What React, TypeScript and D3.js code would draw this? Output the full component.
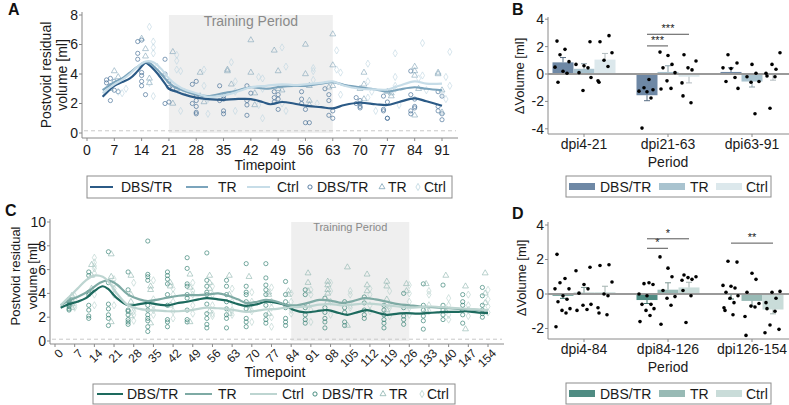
import React from "react";
import * as d3 from "d3";

const FONT = "'Liberation Sans', Arial, Helvetica, sans-serif";
const GROUPS = ["DBS/TR", "TR", "Ctrl"];

// ---------- Panel A (time course, blue) ----------
const ticksA = [0, 7, 14, 21, 28, 35, 42, 49, 56, 63, 70, 77, 84, 91];
const yTicksA = [0, 2, 4, 6, 8];
const trainingA = [21, 63];
const lineA_dbs = [[4,2.45],[7,3.2],[9,3.45],[11,3.7],[13,4.2],[15,4.75],[16,4.6],[18,4.05],[20,3.35],[21,3.0],[23,2.8],[25,2.6],[28,2.4],[31,2.3],[35,2.25],[38,2.3],[42,2.3],[45,2.1],[47,1.95],[50,2.1],[53,2.0],[56,1.85],[60,1.75],[63,1.67],[66,1.9],[70,2.05],[74,1.95],[77,1.9],[80,2.1],[84,2.35],[87,2.15],[91,1.85]];
const lineA_tr = [[4,2.9],[7,3.45],[9,3.7],[11,4.1],[13,4.5],[15,4.8],[16,4.75],[18,4.3],[20,3.7],[22,3.2],[25,2.85],[28,2.6],[31,2.5],[35,2.7],[38,2.85],[42,3.1],[46,3.0],[50,3.15],[53,3.2],[56,3.2],[60,3.35],[63,3.45],[66,3.25],[70,3.1],[74,2.95],[77,2.8],[80,2.95],[84,3.1],[87,3.0],[91,2.9]];
const lineA_ctrl = [[4,2.7],[7,3.3],[9,3.6],[11,4.0],[13,4.5],[15,4.85],[17,4.8],[19,4.35],[21,3.7],[23,3.25],[25,2.95],[28,2.7],[31,2.45],[35,2.55],[38,2.75],[42,3.1],[46,3.2],[50,3.3],[53,3.25],[56,3.3],[60,3.4],[63,3.5],[66,3.2],[70,3.0],[74,2.95],[77,2.95],[80,3.2],[84,3.5],[87,3.35],[91,3.35]];
const ptsA_dbs = [[5,3.6],[5,3.4],[6,3.7],[6,3.2],[6,2.2],[7,3.5],[7,2.9],[8,2.8],[13,6.2],[14,6.3],[13,5.4],[13,5.0],[14,4.1],[14,3.5],[14,3.2],[15,2.6],[14,3.9],[20,5.0],[20,4.0],[21,3.5],[21,3.1],[21,2.1],[20,2.0],[22,3.0],[27,3.3],[28,3.5],[28,2.5],[28,2.2],[28,1.8],[28,1.4],[28,1.3],[27,2.0],[34,3.2],[35,2.5],[35,2.3],[35,1.5],[35,1.3],[34,2.2],[41,3.2],[41,2.2],[41,1.9],[42,2.7],[41,1.2],[48,2.8],[48,2.4],[48,2.1],[49,2.3],[49,1.6],[49,2.6],[55,2.8],[55,2.0],[56,1.6],[56,0.7],[57,0.7],[55,2.3],[62,2.6],[62,2.2],[63,1.5],[62,1.2],[63,1.0],[61,3.0],[69,2.4],[70,2.2],[70,2.0],[70,1.8],[69,2.0],[70,1.7],[76,2.5],[76,1.5],[77,1.0],[77,1.0],[76,1.6],[77,2.1],[83,4.2],[83,2.6],[84,1.8],[83,1.5],[83,1.3],[84,1.7],[84,2.3],[90,1.8],[90,1.5],[91,1.3],[91,0.9],[90,2.8],[91,2.5]];
const ptsA_tr = [[7,4.2],[8,3.8],[6,3.0],[14,6.4],[15,5.7],[15,5.2],[16,3.7],[16,3.4],[22,5.5],[22,2.0],[23,3.0],[29,4.1],[29,2.5],[30,2.1],[36,4.3],[36,4.2],[37,3.3],[42,6.3],[42,4.1],[43,2.7],[43,1.9],[48,5.6],[49,4.2],[49,3.0],[50,2.9],[56,6.0],[56,4.0],[57,3.2],[57,2.2],[57,1.9],[63,6.7],[63,4.6],[62,3.1],[63,3.2],[71,4.1],[71,3.3],[70,3.0],[71,2.3],[77,2.8],[78,2.5],[78,2.7],[84,4.2],[84,3.9],[84,4.5],[85,3.0],[84,1.2],[90,4.0],[90,4.1],[91,2.9],[91,1.4]];
const ptsA_ctrl = [[7,3.5],[8,2.8],[9,2.7],[10,3.0],[16,7.2],[17,6.2],[17,5.8],[17,5.4],[18,4.5],[17,2.5],[16,3.4],[23,5.3],[23,4.9],[23,4.3],[24,4.2],[24,1.5],[25,2.8],[30,4.3],[30,3.2],[31,1.3],[31,2.3],[37,4.8],[38,3.5],[38,2.8],[38,1.5],[44,3.8],[45,3.7],[45,3.0],[44,1.9],[45,1.0],[50,5.8],[51,4.5],[50,2.0],[51,1.5],[58,4.4],[58,4.2],[59,2.0],[58,3.6],[64,5.6],[64,4.3],[65,4.1],[65,2.6],[72,4.7],[72,3.5],[73,2.8],[72,2.4],[74,1.5],[79,3.8],[79,5.4],[79,3.2],[79,3.0],[80,1.9],[86,6.1],[86,3.9],[87,2.9],[85,3.7],[93,5.5],[92,3.8],[93,3.2],[92,2.3],[91,2.7]];

// ---------- Panel C (time course, teal) ----------
const ticksC = [0,7,14,21,28,35,42,49,56,63,70,77,84,91,98,105,112,119,126,133,140,147,154];
const yTicksC = [0, 2, 4, 6, 8, 10];
const trainingC = [84, 126];
const lineC_dbs = [[2,2.8],[5,3.1],[8,3.3],[11,3.6],[14,4.2],[17,4.6],[19,4.35],[22,3.6],[26,3.0],[30,3.1],[33,3.2],[37,3.05],[40,3.0],[44,3.2],[47,3.3],[51,3.5],[54,3.6],[58,3.5],[61,3.4],[65,3.1],[68,2.95],[72,3.1],[75,3.3],[79,3.2],[82,3.0],[85,2.6],[89,2.4],[93,2.5],[97,2.6],[101,2.35],[104,2.2],[108,2.45],[111,2.6],[115,2.35],[118,2.2],[122,2.3],[125,2.35],[129,2.3],[132,2.35],[136,2.4],[139,2.45],[143,2.45],[146,2.5],[150,2.4],[154,2.35]];
const lineC_tr = [[2,3.0],[5,3.4],[8,3.7],[12,4.2],[16,4.9],[19,5.1],[22,4.75],[26,3.9],[30,3.5],[33,3.35],[37,3.5],[40,3.65],[44,3.8],[47,3.85],[51,3.85],[54,3.9],[58,4.0],[61,3.85],[65,3.5],[68,3.2],[72,3.3],[75,3.45],[79,3.3],[82,3.05],[86,3.0],[90,3.2],[94,3.45],[98,3.4],[102,3.2],[106,3.35],[110,3.6],[114,3.5],[118,3.3],[122,3.1],[126,3.0],[130,2.9],[134,2.85],[140,2.75],[147,2.65],[154,2.55]];
const lineC_ctrl = [[2,3.0],[5,3.7],[8,4.4],[11,5.1],[14,5.5],[17,5.4],[19,5.0],[22,4.0],[26,3.0],[30,2.7],[33,2.6],[37,2.55],[40,2.5],[44,2.5],[47,2.55],[51,2.7],[54,2.8],[58,2.75],[61,2.7],[65,2.55],[68,2.45],[72,2.55],[75,2.65],[79,2.7],[82,2.8],[86,2.85],[90,2.9],[94,3.05],[98,3.1],[102,3.0],[106,3.05],[110,3.15],[114,3.1],[118,3.0],[122,2.9],[126,2.8],[130,2.85],[134,2.9],[140,2.8],[147,2.7],[154,2.6]];
const daysC_dbs = [5,12,19,26,33,40,47,54,61,68,75,82,89,96,103,110,117,124,131,138,145,152];
const valsC_dbs = [[3.5,3.3,3.1,2.9,2.7,2.6,3.0,3.4],[5.8,5.5,4.1,3.9,3.0,2.6,2.1,1.9],[7.5,4.9,3.1,2.7,2.2,1.9,1.3],[5.8,4.3,2.6,2.5,2.2,1.8,1.6,1.4],[8.4,5.6,5.4,5.1,3.0,2.6,2.2,1.9,1.7,1.2,0.8],[5.8,5.5,5.2,4.8,3.9,3.0,1.8,1.6,1.2],[7.0,6.1,4.8,4.6,3.9,3.6,2.6,1.8,1.6],[7.4,5.1,4.6,4.1,3.9,3.1,2.3,1.9,1.4,1.1],[5.1,4.6,3.9,3.3,2.7,2.2,1.9,1.1],[6.5,4.6,4.1,3.9,3.3,2.7,1.9,1.6,1.2],[6.5,5.3,4.7,4.3,3.9,3.0,2.2,1.8,1.5],[5.0,3.9,3.3,2.8,1.9,1.6,1.3],[4.3,3.9,2.8,2.2,1.8,1.5],[3.6,2.8,2.4,1.9,1.6,1.1],[3.3,2.8,2.4,1.6,1.3],[3.7,3.2,2.6,2.2,1.9],[3.0,2.6,2.2,1.8,1.5,1.1],[4.0,2.8,2.1,1.8,1.4],[4.8,3.0,2.6,2.1,1.7,1.0],[4.7,3.0,2.6,2.2,1.8],[3.9,3.3,3.0,2.6,2.2,1.5],[4.5,3.8,3.0,2.6,2.3,2.0]];
const daysC_tr = [6,13,20,27,34,41,48,55,62,69,76,83,90,97,104,111,118,125,132,139,146,153];
const valsC_tr = [[3.8,3.4,3.1,2.8],[6.4,5.5,4.4],[7.3,5.4,1.6],[5.5,3.9,3.3,2.1],[4.6,4.3,1.5],[4.9,4.6,3.0],[5.6,4.5,1.6],[5.5,4.9,4.4,2.5],[5.5,3.9,2.3],[5.4,3.0,2.6],[4.1,3.9,2.3],[4.2,3.9,3.0],[5.7,4.9,4.2,3.0],[5.0,4.7,4.3,4.0,3.3],[6.2,1.3],[5.6,4.7,4.2],[5.0,4.6,3.5,2.6],[4.8,4.2],[4.8,2.6],[5.5,2.5],[4.6,1.0],[5.7,4.0,3.2]];
const daysC_ctrl = [7,14,21,28,35,42,49,56,63,70,77,84,91,98,105,112,119,126,133,140,147,154];
const valsC_ctrl = [[3.8,3.5,3.0,2.8],[7.0,6.6,6.3,6.1,5.7,3.9,3.0],[5.2,4.8,4.4,3.9,3.0],[4.9,2.8,2.5,2.2,1.7],[5.1,3.5,3.0,2.6,2.2],[4.4,3.9,3.3,2.5,1.9],[4.9,4.2,3.9,3.0,2.3],[4.6,3.9,3.0,2.3,2.1],[4.4,3.3,2.6,2.2],[4.1,3.3,2.5,1.6],[4.5,3.3,2.8,2.0,1.2],[4.0,3.3,2.6,2.3],[4.3,3.9,2.6,1.6],[4.9,4.2,3.3,2.2],[4.2,3.9,3.0,2.8],[4.4,3.9,3.0,2.5],[4.2,3.0,2.8,2.1],[4.7,4.0,3.3,2.8,2.2],[4.2,3.9,3.0,2.5],[3.6,3.0,2.2,1.8],[3.9,3.0,2.6,2.1],[4.3,3.5,2.9,2.4]];

// ---------- Panel B (bars, blue) ----------
const periodsB = ["dpi4-21", "dpi21-63", "dpi63-91"];
const yTicksB = [-4, -2, 0, 2, 4];
const meanB_dbs = [0.85, -1.55, 0.15];
const meanB_tr = [0.38, 0.15, -0.55];
const meanB_ctrl = [1.05, -0.2, -0.05];
const semB_dbs = [0.35, 0.4, 0.3];
const semB_tr = [0.37, 0.45, 0.4];
const semB_ctrl = [0.45, 0.45, 0.4];
const ptsB_dbs = [[2.4,1.8,1.4,0.9,0.5,0.2,0.05,-0.6],[-0.4,-1.0,-1.15,-1.25,-1.3,-1.75,-3.95],[1.4,0.8,0.45,0.4,-0.25,-0.55,-1.05]];
const ptsB_tr = [[2.35,0.7,0.6,0.45,0.1,-0.25,-1.2],[1.6,1.35,0.7,0.45,0.1,-0.5,-1.05,-1.1],[0.7,0.05,-0.2,-0.55,-0.6,-2.9]];
const ptsB_ctrl = [[2.8,2.35,1.55,1.0,0.55,-0.5,-0.6],[1.4,0.95,0.45,0.3,-0.65,-1.6,-2.1],[1.55,0.7,0.35,0.05,-0.15,-0.2,-2.5]];
const sigB = [
  { period: "dpi21-63", from: "DBS/TR", to: "TR", at: 2.05, label: "***" },
  { period: "dpi21-63", from: "DBS/TR", to: "Ctrl", at: 2.9, label: "***" },
];

// ---------- Panel D (bars, teal) ----------
const periodsD = ["dpi4-84", "dpi84-126", "dpi126-154"];
const yTicksD = [-2, 0, 2, 4];
const meanD_dbs = [-0.1, -0.35, -0.04];
const meanD_tr = [0.08, 0.25, -0.4];
const meanD_ctrl = [0.1, 0.38, -0.9];
const semD_dbs = [0.15, 0.2, 0.25];
const semD_tr = [0.3, 0.4, 0.3];
const semD_ctrl = [0.35, 0.3, 0.25];
const ptsD_dbs = [[2.3,0.9,0.65,0.3,0.3,-0.1,-0.3,-0.45,-0.85,-0.95,-1.1,-1.9],[0.65,0.6,0.55,0.0,-0.1,-0.6,-0.6,-0.85,-0.95,-1.25,-1.6],[1.9,1.85,0.5,0.45,0.35,0.1,-0.1,-0.25,-0.5,-0.8,-0.95,-1.2]];
const ptsD_tr = [[1.55,1.35,0.55,0.3,0.05,-0.6,-0.65,-0.9,-0.95],[2.15,1.5,1.0,0.2,-0.15,-0.25,-0.65,-1.75],[1.2,0.85,0.1,-0.55,-0.7,-0.75,-1.3,-2.4]];
const ptsD_ctrl = [[1.7,1.65,0.7,0.0,-0.1,-0.8,-1.1,-1.2],[1.1,1.0,0.95,0.85,0.8,0.2,-0.1,-1.65],[0.15,0.1,-0.25,-0.5,-0.85,-1.0,-1.8,-2.05,-2.25]];
const sigD = [
  { period: "dpi84-126", from: "DBS/TR", to: "TR", at: 2.65, label: "*" },
  { period: "dpi84-126", from: "DBS/TR", to: "Ctrl", at: 3.2, label: "*" },
  { period: "dpi126-154", from: "DBS/TR", to: "Ctrl", at: 2.95, label: "**" },
];

// ---------- colours ----------
const blue = { line: ["#2b5a86", "#7ba4bc", "#c7dde8"], pt: ["#3d6892", "#7fa3b7", "#bdd5e0"], bar: ["#6e88a5", "#a9c3cf", "#dce8ec"] };
const teal = { line: ["#1d6a5e", "#7eaaa4", "#bdd5d1"], pt: ["#2a7a6c", "#8bb3ad", "#b6d0cb"], bar: ["#4f8c83", "#98bab5", "#c9dcd9"] };

const AXIS = "#8a8a8a";
const TXT = "#1a1a1a";
const triPath = d3.symbol().type(d3.symbolTriangle).size(15)() as string;
const diaPath = d3.symbol().type(d3.symbolDiamond).size(15)() as string;

function Marker({ kind, x, y, color, op = 0.75 }: any) {
  if (kind === 0) return <circle cx={x} cy={y} r={2.1} fill="none" stroke={color} strokeWidth={0.85} opacity={op} />;
  return <path d={kind === 1 ? triPath : diaPath} transform={`translate(${x},${y})`} fill="none" stroke={color} strokeWidth={0.8} opacity={op} />;
}

function LineLegend({ box, y, items, pal }: any) {
  return (
    <g>
      <rect x={box[0]} y={box[1]} width={box[2] - box[0]} height={box[3] - box[1]} fill="white" stroke="#8c8c8c" strokeWidth={1} />
      {GROUPS.map((g, i) => (
        <g key={"l" + i}>
          <line x1={items.lines[i][0]} x2={items.lines[i][1]} y1={y} y2={y} stroke={pal.line[i]} strokeWidth={2} />
          <text x={items.lines[i][2]} y={y} dy="0.36em" fontSize={14} fill={TXT}>{g}</text>
        </g>
      ))}
      {GROUPS.map((g, i) => (
        <g key={"m" + i}>
          <Marker kind={i} x={items.marks[i][0]} y={y} color={pal.pt[i]} op={1} />
          <text x={items.marks[i][1]} y={y} dy="0.36em" fontSize={14} fill={TXT}>{g}</text>
        </g>
      ))}
    </g>
  );
}

function TimePanel({ x, y, xTicks, yTicks, training, lines, pts, pal, rotate, cfg }: any) {
  const line = d3.line<number[]>().x((d) => x(d[0])).y((d) => y(d[1])).curve(d3.curveCatmullRom.alpha(0.5));
  const [, x1] = x.range();
  return (
    <g>
      <rect x={x(training[0])} y={y(y.domain()[1])} width={x(training[1]) - x(training[0])} height={y(0) - y(y.domain()[1])} fill="#efefef" />
      <text x={(x(training[0]) + x(training[1])) / 2} y={cfg.trainY} textAnchor="middle" fontSize={cfg.trainSize} fill="#8a8a8a">Training Period</text>
      <line x1={cfg.axisX + 2} x2={x1 + 14} y1={y(0.15)} y2={y(0.15)} stroke="#c8c8c8" strokeDasharray="4,3" strokeWidth={1} />
      {pts.map((arr: number[][], gi: number) => arr.map((p, k) => <Marker key={gi + "-" + k} kind={gi} x={x(p[0])} y={y(p[1])} color={pal.pt[gi]} />))}
      {lines.map((l: number[][], gi: number) => (
        <path key={gi} d={line(l) as string} fill="none" stroke={pal.line[gi]} strokeWidth={2.2} strokeLinejoin="round" />
      ))}
      <line x1={cfg.axisX} x2={cfg.axisX} y1={cfg.axisTop} y2={cfg.axisBottom} stroke={AXIS} />
      <line x1={cfg.axisX} x2={x1 + 16} y1={cfg.axisBottom} y2={cfg.axisBottom} stroke={AXIS} />
      {yTicks.map((t: number) => (
        <g key={t}>
          <line x1={cfg.axisX - 3} x2={cfg.axisX} y1={y(t)} y2={y(t)} stroke={AXIS} />
          <text x={cfg.axisX - 4} y={y(t)} dy="0.35em" textAnchor="end" fontSize={14} fill={TXT}>{t}</text>
        </g>
      ))}
      {xTicks.map((t: number) => (
        <g key={t}>
          <line x1={x(t)} x2={x(t)} y1={cfg.axisBottom} y2={cfg.axisBottom + 3} stroke={AXIS} />
          {rotate ? (
            <text transform={`translate(${x(t) + 3},${cfg.axisBottom + 4}) rotate(-45)`} dy="0.7em" textAnchor="end" fontSize={12} fill={TXT}>{t}</text>
          ) : (
            <text x={x(t)} y={cfg.axisBottom + 17} textAnchor="middle" fontSize={14} fill={TXT}>{t}</text>
          )}
        </g>
      ))}
      <text x={cfg.titleX} y={cfg.titleY} textAnchor="middle" fontSize={14} fill={TXT}>Timepoint</text>
      <text transform={`translate(${cfg.ylab[0]},${cfg.ylab[2]}) rotate(-90)`} textAnchor="middle" dy="0.35em" fontSize={cfg.ylabSize} fill={TXT}>Postvoid residual</text>
      <text transform={`translate(${cfg.ylab[1]},${cfg.ylab[2]}) rotate(-90)`} textAnchor="middle" dy="0.35em" fontSize={cfg.ylabSize} fill={TXT}>volume [ml]</text>
    </g>
  );
}

const JIT = [-6, 2, -3, 6, -8, 0, 4, -5, 7, -1, 3, -7];

function BarPanel({ periods, y, yTicks, means, sems, pts, sig, pal, cfg }: any) {
  const xb = d3.scaleBand<string>().domain(periods).range([542, 794]).paddingInner(0.25).paddingOuter(0.125);
  const xg = d3.scaleBand<string>().domain(GROUPS).range([0, xb.bandwidth()]);
  const bw = xg.bandwidth();
  const cx = (p: string, g: string) => (xb(p) as number) + (xg(g) as number) + bw / 2;
  return (
    <g>
      {periods.map((p: string, pi: number) =>
        GROUPS.map((g, gi) => {
          const m = means[gi][pi];
          return <rect key={p + g} x={(xb(p) as number) + (xg(g) as number)} y={Math.min(y(m), y(0))} width={bw} height={Math.abs(y(m) - y(0))} fill={pal.bar[gi]} />;
        })
      )}
      <line x1={cfg.axisX} x2={789} y1={y(0)} y2={y(0)} stroke="#9a9a9a" strokeWidth={1.8} />
      {periods.map((p: string, pi: number) =>
        GROUPS.map((g, gi) => {
          const m = means[gi][pi];
          const e = m >= 0 ? m + sems[gi][pi] : m - sems[gi][pi];
          const c = cx(p, g);
          const col = d3.color(pal.bar[gi])!.darker(0.6).toString();
          return (
            <g key={"e" + p + g} stroke={col} strokeWidth={1}>
              <line x1={c} x2={c} y1={y(m)} y2={y(e)} />
              <line x1={c - 3} x2={c + 3} y1={y(e)} y2={y(e)} />
            </g>
          );
        })
      )}
      {periods.map((p: string, pi: number) =>
        GROUPS.map((g, gi) =>
          pts[gi][pi].map((v: number, k: number) => (
            <circle key={p + g + k} cx={cx(p, g) + JIT[(k + gi * 3 + pi) % JIT.length]} cy={y(v)} r={1.8} fill="#000" />
          ))
        )
      )}
      {sig.map((s: any, i: number) => {
        const a = cx(s.period, s.from), b = cx(s.period, s.to);
        return (
          <g key={"s" + i}>
            <line x1={a} x2={b} y1={y(s.at)} y2={y(s.at)} stroke="#555" strokeWidth={1} />
            <text x={(a + b) / 2} y={y(s.at) - 2} textAnchor="middle" fontSize={11} fill={TXT}>{s.label}</text>
          </g>
        );
      })}
      <line x1={cfg.axisX} x2={cfg.axisX} y1={cfg.axisTop} y2={cfg.axisBottom} stroke={AXIS} />
      <line x1={cfg.axisX} x2={789} y1={cfg.axisBottom} y2={cfg.axisBottom} stroke={AXIS} />
      {yTicks.map((t: number) => (
        <g key={t}>
          <line x1={cfg.axisX - 3} x2={cfg.axisX} y1={y(t)} y2={y(t)} stroke={AXIS} />
          <text x={cfg.axisX - 4} y={y(t)} dy="0.35em" textAnchor="end" fontSize={14} fill={TXT}>{t}</text>
        </g>
      ))}
      {periods.map((p: string) => (
        <g key={"xl" + p}>
          <line x1={(xb(p) as number) + xb.bandwidth() / 2} x2={(xb(p) as number) + xb.bandwidth() / 2} y1={cfg.axisBottom} y2={cfg.axisBottom + 3} stroke={AXIS} />
          <text x={(xb(p) as number) + xb.bandwidth() / 2} y={cfg.axisBottom + 15} textAnchor="middle" fontSize={14} fill={TXT}>{p}</text>
        </g>
      ))}
      <text x={668} y={cfg.axisBottom + 33} textAnchor="middle" fontSize={14} fill={TXT}>Period</text>
      <text transform={`translate(${cfg.ylabX},${cfg.ylabY}) rotate(-90)`} textAnchor="middle" dy="0.35em" fontSize={13} fill={TXT}>ΔVolume [ml]</text>
      <rect x={566} y={cfg.legTop} width={205} height={21} fill="white" stroke="#8c8c8c" strokeWidth={1} />
      {GROUPS.map((g, gi) => {
        const sx = [569, 659, 716][gi];
        const tx = [600, 690, 746][gi];
        const cy = cfg.legTop + 10.5;
        return (
          <g key={"lg" + g}>
            <rect x={sx} y={cy - 3.5} width={26} height={7} fill={pal.bar[gi]} />
            <text x={tx} y={cy} dy="0.36em" fontSize={14} fill={TXT}>{g}</text>
          </g>
        );
      })}
    </g>
  );
}

export default function App() {
  const xA = d3.scaleLinear().domain([0, 91]).range([87, 442]);
  const yA = d3.scaleLinear().domain([0, 8]).range([133, 15]);
  const xC = d3.scaleLinear().domain([0, 154]).range([55, 488]);
  const yC = d3.scaleLinear().domain([0, 10]).range([341, 222]);
  const yB = d3.scaleLinear().domain([-4, 4]).range([128.8, 19.2]);
  const yD = d3.scaleLinear().domain([-2, 4]).range([328.5, 225]);

  return (
    <div style={{ position: "absolute", left: 0, top: 0 }}>
      <svg width={789} height={405} style={{ display: "block" }} fontFamily={FONT}>
        <rect width={789} height={405} fill="white" />
        <text x={8} y={15} fontSize={16} fontWeight="bold" fill="#111">A</text>
        <TimePanel
          x={xA} y={yA} xTicks={ticksA} yTicks={yTicksA} training={trainingA}
          lines={[lineA_dbs, lineA_tr, lineA_ctrl]} pts={[ptsA_dbs, ptsA_tr, ptsA_ctrl]} pal={blue} rotate={false}
          cfg={{ axisX: 82, axisTop: 12, axisBottom: 138, titleX: 265, titleY: 170, ylab: [46, 62, 75], ylabSize: 14, trainY: 26, trainSize: 14 }}
        />
        <LineLegend box={[87, 176, 452, 198]} y={187} pal={blue}
          items={{ lines: [[90, 113, 121], [186, 208, 218], [247, 270, 277]], marks: [[310, 317], [382, 388], [418, 424]] }} />

        <text x={512} y={15} fontSize={16} fontWeight="bold" fill="#111">B</text>
        <BarPanel periods={periodsB} y={yB} yTicks={yTicksB}
          means={[meanB_dbs, meanB_tr, meanB_ctrl]} sems={[semB_dbs, semB_tr, semB_ctrl]} pts={[ptsB_dbs, ptsB_tr, ptsB_ctrl]}
          sig={sigB} pal={blue}
          cfg={{ axisX: 548, axisTop: 17, axisBottom: 134, ylabX: 519, ylabY: 76, legTop: 176 }} />

        <text x={5} y={216} fontSize={16} fontWeight="bold" fill="#111">C</text>
        <TimePanel
          x={xC} y={yC} xTicks={ticksC} yTicks={yTicksC} training={trainingC}
          lines={[lineC_dbs, lineC_tr, lineC_ctrl]}
          pts={[
            daysC_dbs.flatMap((d, i) => valsC_dbs[i].map((v) => [d, v])),
            daysC_tr.flatMap((d, i) => valsC_tr[i].map((v) => [d, v])),
            daysC_ctrl.flatMap((d, i) => valsC_ctrl[i].map((v) => [d, v])),
          ]}
          pal={teal} rotate={true}
          cfg={{ axisX: 50, axisTop: 219, axisBottom: 344, titleX: 275, titleY: 377, ylab: [15, 32, 276], ylabSize: 13, trainY: 231, trainSize: 11 }}
        />
        <LineLegend box={[93, 384, 455, 404]} y={394} pal={teal}
          items={{ lines: [[97, 123, 127], [185, 212, 218], [250, 277, 282]], marks: [[315, 322], [383, 389], [422, 427]] }} />

        <text x={512} y={219} fontSize={16} fontWeight="bold" fill="#111">D</text>
        <BarPanel periods={periodsD} y={yD} yTicks={yTicksD}
          means={[meanD_dbs, meanD_tr, meanD_ctrl]} sems={[semD_dbs, semD_tr, semD_ctrl]} pts={[ptsD_dbs, ptsD_tr, ptsD_ctrl]}
          sig={sigD} pal={teal}
          cfg={{ axisX: 548, axisTop: 222, axisBottom: 339, ylabX: 521, ylabY: 278, legTop: 383 }} />
      </svg>
    </div>
  );
}
